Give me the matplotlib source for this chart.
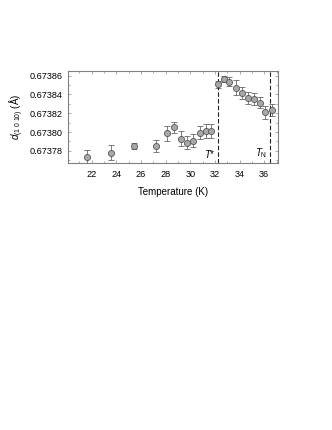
import matplotlib.pyplot as plt
from matplotlib.ticker import MultipleLocator, FormatStrFormatter

plt.rcParams['font.family'] = ['Liberation Sans', 'DejaVu Sans']
plt.rcParams['mathtext.fontset'] = 'custom'
plt.rcParams['mathtext.rm'] = 'Liberation Sans'
plt.rcParams['mathtext.it'] = 'Liberation Sans:italic'

# Temperature (K), lattice spacing d (A) and error bars
temperature = [21.65, 23.54, 25.40, 27.24, 28.14, 28.70, 29.22, 29.76, 30.24, 30.76,
               31.24, 31.70, 32.22, 32.70, 33.16, 33.68, 34.16, 34.65, 35.16, 35.62,
               36.10, 36.60]
spacing = [0.6737736, 0.6737779, 0.6737850, 0.6737850, 0.6737988, 0.6738052,
           0.6737931, 0.6737889, 0.6737910, 0.6737992, 0.6738013, 0.6738013,
           0.6738508, 0.6738564, 0.6738536, 0.6738472, 0.6738419, 0.6738362,
           0.6738348, 0.6738312, 0.6738209, 0.6738234]
error = [0.70e-5, 0.80e-5, 0.35e-5, 0.65e-5, 0.80e-5, 0.60e-5, 0.80e-5, 0.65e-5,
         0.65e-5, 0.70e-5, 0.75e-5, 0.75e-5, 0.40e-5, 0.30e-5, 0.50e-5, 0.80e-5,
         0.65e-5, 0.60e-5, 0.65e-5, 0.60e-5, 0.65e-5, 0.60e-5]

t_star = 32.27
t_neel = 36.46

fig = plt.figure(figsize=(3.32, 4.30), dpi=100)
ax = fig.add_axes([0.204, 0.620, 0.632, 0.215])

ax.errorbar(temperature, spacing, yerr=error, fmt='o', ms=4.4,
            mfc='#a8a8a8', mec='#555555', mew=0.6,
            ecolor='#666666', elinewidth=0.6, capsize=1.9, capthick=0.6)

ax.axvline(t_star, color='#222222', ls=(0, (4, 2)), lw=0.8)
ax.axvline(t_neel, color='#222222', ls=(0, (4, 2)), lw=0.8)
ax.text(t_star - 0.2, 0.6737705, r'$T$*', ha='right', va='bottom', fontsize=7)
ax.text(t_neel - 0.2, 0.6737705, r'$T_{\mathrm{N}}$', ha='right', va='bottom', fontsize=7)

ax.set_xlim(20.05, 37.08)
ax.set_ylim(0.6737667, 0.673865)
ax.xaxis.set_major_locator(MultipleLocator(2))
ax.xaxis.set_minor_locator(MultipleLocator(1))
ax.yaxis.set_major_locator(MultipleLocator(0.00002))
ax.yaxis.set_minor_locator(MultipleLocator(0.00001))
ax.yaxis.set_major_formatter(FormatStrFormatter('%.5f'))
ax.tick_params(which='both', direction='in', top=True, right=True,
               color='#888888', labelsize=6.6, width=0.5)
ax.tick_params(which='major', length=2.5)
ax.tick_params(which='minor', length=1.5)
ax.tick_params(axis='x', pad=4.5)
ax.tick_params(axis='y', pad=4)
for s in ax.spines.values():
    s.set_color('#808080')
    s.set_linewidth(0.8)

ax.set_xlabel('Temperature (K)', fontsize=7, labelpad=6)
ax.set_ylabel(r'$d_{\mathrm{(1\ 0\ 10)}}$ (Å)', fontsize=7, labelpad=2)

fig.savefig('out.png', dpi=100)
